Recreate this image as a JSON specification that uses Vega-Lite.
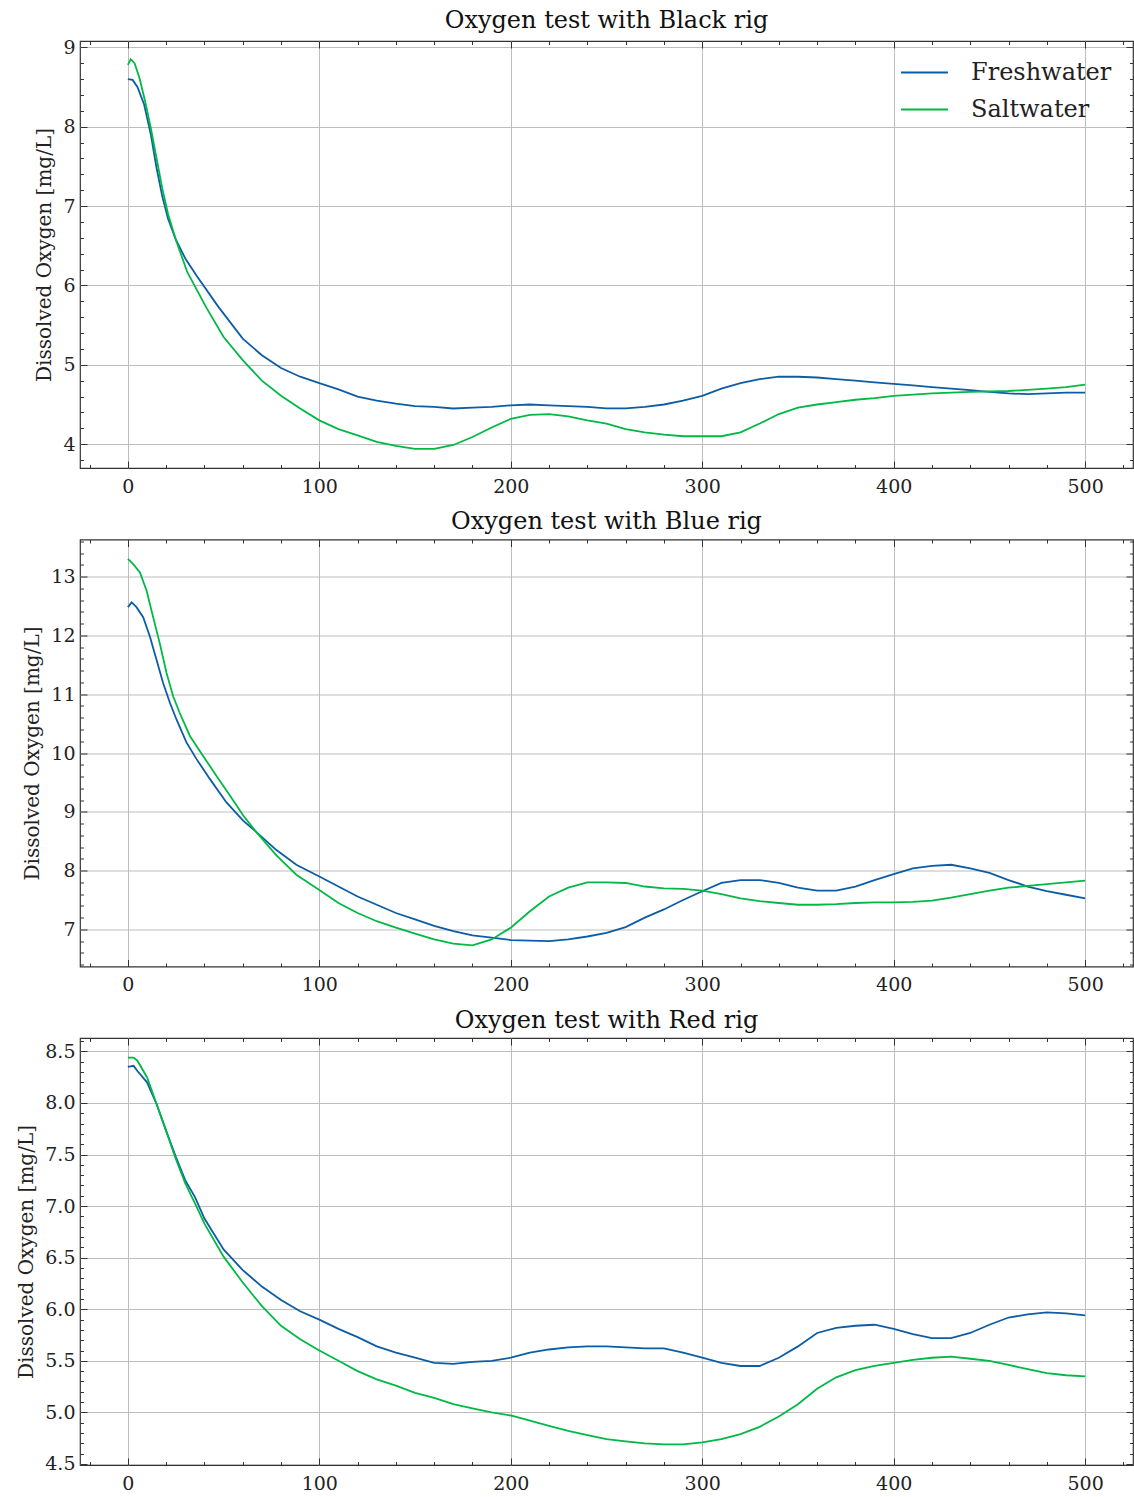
{
  "$schema": "https://vega.github.io/schema/vega-lite/v6.json",
  "padding": {"top": 8, "left": 16, "right": 0, "bottom": 0},
  "background": "white",
  "spacing": 11.5,
  "config": {
    "font": "DejaVu Serif",
    "view": {"stroke": "#333", "strokeWidth": 1.2},
    "axis": {"labelFont": "DejaVu Serif", "labelFontSize": 19, "labelColor": "#222", "titleFont": "DejaVu Serif", "titleFontSize": 20, "titleFontWeight": "normal", "titleColor": "#222", "tickColor": "#333", "domain": false, "gridColor": "#bdbdbd", "gridWidth": 1},
    "title": {"font": "DejaVu Serif", "fontSize": 24, "fontWeight": "normal", "color": "#111", "offset": 5},
    "legend": {"labelFont": "DejaVu Serif", "labelFontSize": 24, "labelColor": "#222"}
  },
  "data": {"values": [
    {"rig":"Black","water":"Freshwater","t":0,"oxygen":8.60},{"rig":"Black","water":"Freshwater","t":2.5,"oxygen":8.59},{"rig":"Black","water":"Freshwater","t":5,"oxygen":8.50},{"rig":"Black","water":"Freshwater","t":8.5,"oxygen":8.28},{"rig":"Black","water":"Freshwater","t":12,"oxygen":7.90},{"rig":"Black","water":"Freshwater","t":15,"oxygen":7.48},{"rig":"Black","water":"Freshwater","t":18,"oxygen":7.12},{"rig":"Black","water":"Freshwater","t":21,"oxygen":6.84},{"rig":"Black","water":"Freshwater","t":25,"oxygen":6.58},{"rig":"Black","water":"Freshwater","t":30,"oxygen":6.34},{"rig":"Black","water":"Freshwater","t":36,"oxygen":6.12},{"rig":"Black","water":"Freshwater","t":47.3,"oxygen":5.73},{"rig":"Black","water":"Freshwater","t":60,"oxygen":5.33},{"rig":"Black","water":"Freshwater","t":70,"oxygen":5.12},{"rig":"Black","water":"Freshwater","t":80,"oxygen":4.96},{"rig":"Black","water":"Freshwater","t":90,"oxygen":4.85},{"rig":"Black","water":"Freshwater","t":100,"oxygen":4.77},{"rig":"Black","water":"Freshwater","t":110,"oxygen":4.69},{"rig":"Black","water":"Freshwater","t":120,"oxygen":4.60},{"rig":"Black","water":"Freshwater","t":130,"oxygen":4.55},{"rig":"Black","water":"Freshwater","t":140,"oxygen":4.51},{"rig":"Black","water":"Freshwater","t":150,"oxygen":4.48},{"rig":"Black","water":"Freshwater","t":160,"oxygen":4.47},{"rig":"Black","water":"Freshwater","t":170,"oxygen":4.45},{"rig":"Black","water":"Freshwater","t":180,"oxygen":4.46},{"rig":"Black","water":"Freshwater","t":190,"oxygen":4.47},{"rig":"Black","water":"Freshwater","t":200,"oxygen":4.49},{"rig":"Black","water":"Freshwater","t":210,"oxygen":4.50},{"rig":"Black","water":"Freshwater","t":220,"oxygen":4.49},{"rig":"Black","water":"Freshwater","t":230,"oxygen":4.48},{"rig":"Black","water":"Freshwater","t":240,"oxygen":4.47},{"rig":"Black","water":"Freshwater","t":250,"oxygen":4.45},{"rig":"Black","water":"Freshwater","t":260,"oxygen":4.45},{"rig":"Black","water":"Freshwater","t":270,"oxygen":4.47},{"rig":"Black","water":"Freshwater","t":280,"oxygen":4.50},{"rig":"Black","water":"Freshwater","t":290,"oxygen":4.55},{"rig":"Black","water":"Freshwater","t":300,"oxygen":4.61},{"rig":"Black","water":"Freshwater","t":310,"oxygen":4.70},{"rig":"Black","water":"Freshwater","t":320,"oxygen":4.77},{"rig":"Black","water":"Freshwater","t":330,"oxygen":4.82},{"rig":"Black","water":"Freshwater","t":340,"oxygen":4.85},{"rig":"Black","water":"Freshwater","t":350,"oxygen":4.85},{"rig":"Black","water":"Freshwater","t":360,"oxygen":4.84},{"rig":"Black","water":"Freshwater","t":370,"oxygen":4.82},{"rig":"Black","water":"Freshwater","t":380,"oxygen":4.80},{"rig":"Black","water":"Freshwater","t":390,"oxygen":4.78},{"rig":"Black","water":"Freshwater","t":400,"oxygen":4.76},{"rig":"Black","water":"Freshwater","t":410,"oxygen":4.74},{"rig":"Black","water":"Freshwater","t":420,"oxygen":4.72},{"rig":"Black","water":"Freshwater","t":430,"oxygen":4.70},{"rig":"Black","water":"Freshwater","t":440,"oxygen":4.68},{"rig":"Black","water":"Freshwater","t":450,"oxygen":4.66},{"rig":"Black","water":"Freshwater","t":460,"oxygen":4.64},{"rig":"Black","water":"Freshwater","t":470,"oxygen":4.63},{"rig":"Black","water":"Freshwater","t":480,"oxygen":4.64},{"rig":"Black","water":"Freshwater","t":490,"oxygen":4.65},{"rig":"Black","water":"Freshwater","t":500,"oxygen":4.65},
    {"rig":"Black","water":"Saltwater","t":0,"oxygen":8.78},{"rig":"Black","water":"Saltwater","t":1.5,"oxygen":8.85},{"rig":"Black","water":"Saltwater","t":3.5,"oxygen":8.80},{"rig":"Black","water":"Saltwater","t":6,"oxygen":8.62},{"rig":"Black","water":"Saltwater","t":9,"oxygen":8.32},{"rig":"Black","water":"Saltwater","t":12,"oxygen":7.98},{"rig":"Black","water":"Saltwater","t":15,"oxygen":7.60},{"rig":"Black","water":"Saltwater","t":18,"oxygen":7.22},{"rig":"Black","water":"Saltwater","t":21,"oxygen":6.90},{"rig":"Black","water":"Saltwater","t":25,"oxygen":6.58},{"rig":"Black","water":"Saltwater","t":31,"oxygen":6.17},{"rig":"Black","water":"Saltwater","t":41,"oxygen":5.72},{"rig":"Black","water":"Saltwater","t":50,"oxygen":5.35},{"rig":"Black","water":"Saltwater","t":60,"oxygen":5.06},{"rig":"Black","water":"Saltwater","t":70,"oxygen":4.80},{"rig":"Black","water":"Saltwater","t":80,"oxygen":4.61},{"rig":"Black","water":"Saltwater","t":90,"oxygen":4.45},{"rig":"Black","water":"Saltwater","t":100,"oxygen":4.30},{"rig":"Black","water":"Saltwater","t":110,"oxygen":4.19},{"rig":"Black","water":"Saltwater","t":120,"oxygen":4.11},{"rig":"Black","water":"Saltwater","t":130,"oxygen":4.03},{"rig":"Black","water":"Saltwater","t":140,"oxygen":3.98},{"rig":"Black","water":"Saltwater","t":150,"oxygen":3.94},{"rig":"Black","water":"Saltwater","t":160,"oxygen":3.94},{"rig":"Black","water":"Saltwater","t":170,"oxygen":3.99},{"rig":"Black","water":"Saltwater","t":180,"oxygen":4.09},{"rig":"Black","water":"Saltwater","t":190,"oxygen":4.21},{"rig":"Black","water":"Saltwater","t":200,"oxygen":4.32},{"rig":"Black","water":"Saltwater","t":210,"oxygen":4.37},{"rig":"Black","water":"Saltwater","t":220,"oxygen":4.38},{"rig":"Black","water":"Saltwater","t":230,"oxygen":4.35},{"rig":"Black","water":"Saltwater","t":240,"oxygen":4.30},{"rig":"Black","water":"Saltwater","t":250,"oxygen":4.26},{"rig":"Black","water":"Saltwater","t":260,"oxygen":4.19},{"rig":"Black","water":"Saltwater","t":270,"oxygen":4.15},{"rig":"Black","water":"Saltwater","t":280,"oxygen":4.12},{"rig":"Black","water":"Saltwater","t":290,"oxygen":4.10},{"rig":"Black","water":"Saltwater","t":300,"oxygen":4.10},{"rig":"Black","water":"Saltwater","t":310,"oxygen":4.10},{"rig":"Black","water":"Saltwater","t":320,"oxygen":4.15},{"rig":"Black","water":"Saltwater","t":330,"oxygen":4.26},{"rig":"Black","water":"Saltwater","t":340,"oxygen":4.38},{"rig":"Black","water":"Saltwater","t":350,"oxygen":4.46},{"rig":"Black","water":"Saltwater","t":360,"oxygen":4.50},{"rig":"Black","water":"Saltwater","t":370,"oxygen":4.53},{"rig":"Black","water":"Saltwater","t":380,"oxygen":4.56},{"rig":"Black","water":"Saltwater","t":390,"oxygen":4.58},{"rig":"Black","water":"Saltwater","t":400,"oxygen":4.61},{"rig":"Black","water":"Saltwater","t":420,"oxygen":4.64},{"rig":"Black","water":"Saltwater","t":440,"oxygen":4.66},{"rig":"Black","water":"Saltwater","t":460,"oxygen":4.67},{"rig":"Black","water":"Saltwater","t":480,"oxygen":4.70},{"rig":"Black","water":"Saltwater","t":490,"oxygen":4.72},{"rig":"Black","water":"Saltwater","t":500,"oxygen":4.75},
    {"rig":"Blue","water":"Freshwater","t":0,"oxygen":12.48},{"rig":"Blue","water":"Freshwater","t":2,"oxygen":12.56},{"rig":"Blue","water":"Freshwater","t":4.5,"oxygen":12.48},{"rig":"Blue","water":"Freshwater","t":8,"oxygen":12.31},{"rig":"Blue","water":"Freshwater","t":11.5,"oxygen":11.98},{"rig":"Blue","water":"Freshwater","t":15,"oxygen":11.58},{"rig":"Blue","water":"Freshwater","t":18.4,"oxygen":11.19},{"rig":"Blue","water":"Freshwater","t":22,"oxygen":10.85},{"rig":"Blue","water":"Freshwater","t":25.4,"oxygen":10.57},{"rig":"Blue","water":"Freshwater","t":30.6,"oxygen":10.18},{"rig":"Blue","water":"Freshwater","t":35.8,"oxygen":9.90},{"rig":"Blue","water":"Freshwater","t":42.8,"oxygen":9.56},{"rig":"Blue","water":"Freshwater","t":51.5,"oxygen":9.16},{"rig":"Blue","water":"Freshwater","t":60.2,"oxygen":8.85},{"rig":"Blue","water":"Freshwater","t":67,"oxygen":8.66},{"rig":"Blue","water":"Freshwater","t":77.6,"oxygen":8.35},{"rig":"Blue","water":"Freshwater","t":88,"oxygen":8.10},{"rig":"Blue","water":"Freshwater","t":100,"oxygen":7.90},{"rig":"Blue","water":"Freshwater","t":110,"oxygen":7.73},{"rig":"Blue","water":"Freshwater","t":120,"oxygen":7.56},{"rig":"Blue","water":"Freshwater","t":130,"oxygen":7.42},{"rig":"Blue","water":"Freshwater","t":140,"oxygen":7.28},{"rig":"Blue","water":"Freshwater","t":150,"oxygen":7.17},{"rig":"Blue","water":"Freshwater","t":160,"oxygen":7.06},{"rig":"Blue","water":"Freshwater","t":170,"oxygen":6.97},{"rig":"Blue","water":"Freshwater","t":180,"oxygen":6.90},{"rig":"Blue","water":"Freshwater","t":190,"oxygen":6.86},{"rig":"Blue","water":"Freshwater","t":200,"oxygen":6.82},{"rig":"Blue","water":"Freshwater","t":210,"oxygen":6.81},{"rig":"Blue","water":"Freshwater","t":220,"oxygen":6.80},{"rig":"Blue","water":"Freshwater","t":230,"oxygen":6.83},{"rig":"Blue","water":"Freshwater","t":240,"oxygen":6.88},{"rig":"Blue","water":"Freshwater","t":250,"oxygen":6.94},{"rig":"Blue","water":"Freshwater","t":260,"oxygen":7.04},{"rig":"Blue","water":"Freshwater","t":270,"oxygen":7.20},{"rig":"Blue","water":"Freshwater","t":280,"oxygen":7.34},{"rig":"Blue","water":"Freshwater","t":290,"oxygen":7.50},{"rig":"Blue","water":"Freshwater","t":300,"oxygen":7.65},{"rig":"Blue","water":"Freshwater","t":310,"oxygen":7.79},{"rig":"Blue","water":"Freshwater","t":320,"oxygen":7.84},{"rig":"Blue","water":"Freshwater","t":330,"oxygen":7.84},{"rig":"Blue","water":"Freshwater","t":340,"oxygen":7.79},{"rig":"Blue","water":"Freshwater","t":350,"oxygen":7.71},{"rig":"Blue","water":"Freshwater","t":360,"oxygen":7.66},{"rig":"Blue","water":"Freshwater","t":370,"oxygen":7.66},{"rig":"Blue","water":"Freshwater","t":380,"oxygen":7.73},{"rig":"Blue","water":"Freshwater","t":390,"oxygen":7.84},{"rig":"Blue","water":"Freshwater","t":400,"oxygen":7.94},{"rig":"Blue","water":"Freshwater","t":410,"oxygen":8.04},{"rig":"Blue","water":"Freshwater","t":420,"oxygen":8.08},{"rig":"Blue","water":"Freshwater","t":430,"oxygen":8.10},{"rig":"Blue","water":"Freshwater","t":440,"oxygen":8.04},{"rig":"Blue","water":"Freshwater","t":450,"oxygen":7.96},{"rig":"Blue","water":"Freshwater","t":460,"oxygen":7.84},{"rig":"Blue","water":"Freshwater","t":470,"oxygen":7.73},{"rig":"Blue","water":"Freshwater","t":480,"oxygen":7.65},{"rig":"Blue","water":"Freshwater","t":490,"oxygen":7.59},{"rig":"Blue","water":"Freshwater","t":500,"oxygen":7.53},
    {"rig":"Blue","water":"Saltwater","t":0,"oxygen":13.30},{"rig":"Blue","water":"Saltwater","t":2.8,"oxygen":13.21},{"rig":"Blue","water":"Saltwater","t":6.3,"oxygen":13.07},{"rig":"Blue","water":"Saltwater","t":9.8,"oxygen":12.76},{"rig":"Blue","water":"Saltwater","t":13.2,"oxygen":12.31},{"rig":"Blue","water":"Saltwater","t":16.7,"oxygen":11.86},{"rig":"Blue","water":"Saltwater","t":20.2,"oxygen":11.36},{"rig":"Blue","water":"Saltwater","t":23.7,"oxygen":10.96},{"rig":"Blue","water":"Saltwater","t":27.1,"oxygen":10.68},{"rig":"Blue","water":"Saltwater","t":32.4,"oxygen":10.29},{"rig":"Blue","water":"Saltwater","t":39.3,"oxygen":9.95},{"rig":"Blue","water":"Saltwater","t":46.3,"oxygen":9.61},{"rig":"Blue","water":"Saltwater","t":53.2,"oxygen":9.28},{"rig":"Blue","water":"Saltwater","t":60.2,"oxygen":8.94},{"rig":"Blue","water":"Saltwater","t":67,"oxygen":8.66},{"rig":"Blue","water":"Saltwater","t":77.6,"oxygen":8.26},{"rig":"Blue","water":"Saltwater","t":88,"oxygen":7.93},{"rig":"Blue","water":"Saltwater","t":100,"oxygen":7.67},{"rig":"Blue","water":"Saltwater","t":110,"oxygen":7.45},{"rig":"Blue","water":"Saltwater","t":120,"oxygen":7.28},{"rig":"Blue","water":"Saltwater","t":130,"oxygen":7.14},{"rig":"Blue","water":"Saltwater","t":140,"oxygen":7.03},{"rig":"Blue","water":"Saltwater","t":150,"oxygen":6.93},{"rig":"Blue","water":"Saltwater","t":160,"oxygen":6.83},{"rig":"Blue","water":"Saltwater","t":170,"oxygen":6.76},{"rig":"Blue","water":"Saltwater","t":180,"oxygen":6.73},{"rig":"Blue","water":"Saltwater","t":190,"oxygen":6.83},{"rig":"Blue","water":"Saltwater","t":200,"oxygen":7.03},{"rig":"Blue","water":"Saltwater","t":210,"oxygen":7.31},{"rig":"Blue","water":"Saltwater","t":220,"oxygen":7.56},{"rig":"Blue","water":"Saltwater","t":230,"oxygen":7.71},{"rig":"Blue","water":"Saltwater","t":240,"oxygen":7.80},{"rig":"Blue","water":"Saltwater","t":250,"oxygen":7.80},{"rig":"Blue","water":"Saltwater","t":260,"oxygen":7.79},{"rig":"Blue","water":"Saltwater","t":270,"oxygen":7.73},{"rig":"Blue","water":"Saltwater","t":280,"oxygen":7.70},{"rig":"Blue","water":"Saltwater","t":290,"oxygen":7.69},{"rig":"Blue","water":"Saltwater","t":300,"oxygen":7.66},{"rig":"Blue","water":"Saltwater","t":310,"oxygen":7.60},{"rig":"Blue","water":"Saltwater","t":320,"oxygen":7.53},{"rig":"Blue","water":"Saltwater","t":330,"oxygen":7.48},{"rig":"Blue","water":"Saltwater","t":340,"oxygen":7.45},{"rig":"Blue","water":"Saltwater","t":350,"oxygen":7.42},{"rig":"Blue","water":"Saltwater","t":360,"oxygen":7.42},{"rig":"Blue","water":"Saltwater","t":370,"oxygen":7.43},{"rig":"Blue","water":"Saltwater","t":380,"oxygen":7.45},{"rig":"Blue","water":"Saltwater","t":390,"oxygen":7.46},{"rig":"Blue","water":"Saltwater","t":400,"oxygen":7.46},{"rig":"Blue","water":"Saltwater","t":410,"oxygen":7.47},{"rig":"Blue","water":"Saltwater","t":420,"oxygen":7.49},{"rig":"Blue","water":"Saltwater","t":430,"oxygen":7.54},{"rig":"Blue","water":"Saltwater","t":440,"oxygen":7.60},{"rig":"Blue","water":"Saltwater","t":450,"oxygen":7.66},{"rig":"Blue","water":"Saltwater","t":460,"oxygen":7.71},{"rig":"Blue","water":"Saltwater","t":470,"oxygen":7.74},{"rig":"Blue","water":"Saltwater","t":480,"oxygen":7.77},{"rig":"Blue","water":"Saltwater","t":490,"oxygen":7.80},{"rig":"Blue","water":"Saltwater","t":500,"oxygen":7.83},
    {"rig":"Red","water":"Freshwater","t":0,"oxygen":8.35},{"rig":"Red","water":"Freshwater","t":3,"oxygen":8.36},{"rig":"Red","water":"Freshwater","t":5,"oxygen":8.31},{"rig":"Red","water":"Freshwater","t":10,"oxygen":8.20},{"rig":"Red","water":"Freshwater","t":15,"oxygen":7.99},{"rig":"Red","water":"Freshwater","t":20,"oxygen":7.73},{"rig":"Red","water":"Freshwater","t":25,"oxygen":7.48},{"rig":"Red","water":"Freshwater","t":30,"oxygen":7.25},{"rig":"Red","water":"Freshwater","t":35,"oxygen":7.09},{"rig":"Red","water":"Freshwater","t":40,"oxygen":6.88},{"rig":"Red","water":"Freshwater","t":50,"oxygen":6.58},{"rig":"Red","water":"Freshwater","t":60,"oxygen":6.38},{"rig":"Red","water":"Freshwater","t":70,"oxygen":6.22},{"rig":"Red","water":"Freshwater","t":80,"oxygen":6.09},{"rig":"Red","water":"Freshwater","t":90,"oxygen":5.98},{"rig":"Red","water":"Freshwater","t":100,"oxygen":5.90},{"rig":"Red","water":"Freshwater","t":110,"oxygen":5.81},{"rig":"Red","water":"Freshwater","t":120,"oxygen":5.73},{"rig":"Red","water":"Freshwater","t":130,"oxygen":5.64},{"rig":"Red","water":"Freshwater","t":140,"oxygen":5.58},{"rig":"Red","water":"Freshwater","t":150,"oxygen":5.53},{"rig":"Red","water":"Freshwater","t":160,"oxygen":5.48},{"rig":"Red","water":"Freshwater","t":170,"oxygen":5.47},{"rig":"Red","water":"Freshwater","t":180,"oxygen":5.49},{"rig":"Red","water":"Freshwater","t":190,"oxygen":5.50},{"rig":"Red","water":"Freshwater","t":200,"oxygen":5.53},{"rig":"Red","water":"Freshwater","t":210,"oxygen":5.58},{"rig":"Red","water":"Freshwater","t":220,"oxygen":5.61},{"rig":"Red","water":"Freshwater","t":230,"oxygen":5.63},{"rig":"Red","water":"Freshwater","t":240,"oxygen":5.64},{"rig":"Red","water":"Freshwater","t":250,"oxygen":5.64},{"rig":"Red","water":"Freshwater","t":260,"oxygen":5.63},{"rig":"Red","water":"Freshwater","t":270,"oxygen":5.62},{"rig":"Red","water":"Freshwater","t":280,"oxygen":5.62},{"rig":"Red","water":"Freshwater","t":290,"oxygen":5.58},{"rig":"Red","water":"Freshwater","t":300,"oxygen":5.53},{"rig":"Red","water":"Freshwater","t":310,"oxygen":5.48},{"rig":"Red","water":"Freshwater","t":320,"oxygen":5.45},{"rig":"Red","water":"Freshwater","t":330,"oxygen":5.45},{"rig":"Red","water":"Freshwater","t":340,"oxygen":5.53},{"rig":"Red","water":"Freshwater","t":350,"oxygen":5.64},{"rig":"Red","water":"Freshwater","t":360,"oxygen":5.77},{"rig":"Red","water":"Freshwater","t":370,"oxygen":5.82},{"rig":"Red","water":"Freshwater","t":380,"oxygen":5.84},{"rig":"Red","water":"Freshwater","t":390,"oxygen":5.85},{"rig":"Red","water":"Freshwater","t":400,"oxygen":5.81},{"rig":"Red","water":"Freshwater","t":410,"oxygen":5.76},{"rig":"Red","water":"Freshwater","t":420,"oxygen":5.72},{"rig":"Red","water":"Freshwater","t":430,"oxygen":5.72},{"rig":"Red","water":"Freshwater","t":440,"oxygen":5.77},{"rig":"Red","water":"Freshwater","t":450,"oxygen":5.85},{"rig":"Red","water":"Freshwater","t":460,"oxygen":5.92},{"rig":"Red","water":"Freshwater","t":470,"oxygen":5.95},{"rig":"Red","water":"Freshwater","t":480,"oxygen":5.97},{"rig":"Red","water":"Freshwater","t":490,"oxygen":5.96},{"rig":"Red","water":"Freshwater","t":500,"oxygen":5.94},
    {"rig":"Red","water":"Saltwater","t":0,"oxygen":8.44},{"rig":"Red","water":"Saltwater","t":3,"oxygen":8.44},{"rig":"Red","water":"Saltwater","t":5,"oxygen":8.41},{"rig":"Red","water":"Saltwater","t":10,"oxygen":8.25},{"rig":"Red","water":"Saltwater","t":15,"oxygen":7.99},{"rig":"Red","water":"Saltwater","t":20,"oxygen":7.73},{"rig":"Red","water":"Saltwater","t":25,"oxygen":7.46},{"rig":"Red","water":"Saltwater","t":30,"oxygen":7.22},{"rig":"Red","water":"Saltwater","t":35,"oxygen":7.03},{"rig":"Red","water":"Saltwater","t":40,"oxygen":6.83},{"rig":"Red","water":"Saltwater","t":50,"oxygen":6.51},{"rig":"Red","water":"Saltwater","t":60,"oxygen":6.26},{"rig":"Red","water":"Saltwater","t":70,"oxygen":6.03},{"rig":"Red","water":"Saltwater","t":80,"oxygen":5.84},{"rig":"Red","water":"Saltwater","t":90,"oxygen":5.71},{"rig":"Red","water":"Saltwater","t":100,"oxygen":5.60},{"rig":"Red","water":"Saltwater","t":110,"oxygen":5.50},{"rig":"Red","water":"Saltwater","t":120,"oxygen":5.40},{"rig":"Red","water":"Saltwater","t":130,"oxygen":5.32},{"rig":"Red","water":"Saltwater","t":140,"oxygen":5.26},{"rig":"Red","water":"Saltwater","t":150,"oxygen":5.19},{"rig":"Red","water":"Saltwater","t":160,"oxygen":5.14},{"rig":"Red","water":"Saltwater","t":170,"oxygen":5.08},{"rig":"Red","water":"Saltwater","t":180,"oxygen":5.04},{"rig":"Red","water":"Saltwater","t":190,"oxygen":5.00},{"rig":"Red","water":"Saltwater","t":200,"oxygen":4.97},{"rig":"Red","water":"Saltwater","t":210,"oxygen":4.92},{"rig":"Red","water":"Saltwater","t":220,"oxygen":4.87},{"rig":"Red","water":"Saltwater","t":230,"oxygen":4.82},{"rig":"Red","water":"Saltwater","t":240,"oxygen":4.78},{"rig":"Red","water":"Saltwater","t":250,"oxygen":4.74},{"rig":"Red","water":"Saltwater","t":260,"oxygen":4.72},{"rig":"Red","water":"Saltwater","t":270,"oxygen":4.70},{"rig":"Red","water":"Saltwater","t":280,"oxygen":4.69},{"rig":"Red","water":"Saltwater","t":290,"oxygen":4.69},{"rig":"Red","water":"Saltwater","t":300,"oxygen":4.71},{"rig":"Red","water":"Saltwater","t":310,"oxygen":4.74},{"rig":"Red","water":"Saltwater","t":320,"oxygen":4.79},{"rig":"Red","water":"Saltwater","t":330,"oxygen":4.86},{"rig":"Red","water":"Saltwater","t":340,"oxygen":4.96},{"rig":"Red","water":"Saltwater","t":350,"oxygen":5.08},{"rig":"Red","water":"Saltwater","t":360,"oxygen":5.23},{"rig":"Red","water":"Saltwater","t":370,"oxygen":5.34},{"rig":"Red","water":"Saltwater","t":380,"oxygen":5.41},{"rig":"Red","water":"Saltwater","t":390,"oxygen":5.45},{"rig":"Red","water":"Saltwater","t":400,"oxygen":5.48},{"rig":"Red","water":"Saltwater","t":410,"oxygen":5.51},{"rig":"Red","water":"Saltwater","t":420,"oxygen":5.53},{"rig":"Red","water":"Saltwater","t":430,"oxygen":5.54},{"rig":"Red","water":"Saltwater","t":440,"oxygen":5.52},{"rig":"Red","water":"Saltwater","t":450,"oxygen":5.50},{"rig":"Red","water":"Saltwater","t":460,"oxygen":5.46},{"rig":"Red","water":"Saltwater","t":470,"oxygen":5.42},{"rig":"Red","water":"Saltwater","t":480,"oxygen":5.38},{"rig":"Red","water":"Saltwater","t":490,"oxygen":5.36},{"rig":"Red","water":"Saltwater","t":500,"oxygen":5.35}
  ]},
  "vconcat": [
    {
      "title": "Oxygen test with Black rig",
      "width": 1053, "height": 427,
      "transform": [{"filter": "datum.rig === 'Black'"}],
      "layer": [
        {"mark": {"type": "line", "strokeWidth": 1.8},
         "encoding": {
           "x": {"field": "t", "type": "quantitative", "scale": {"domain": [-25, 525], "nice": false, "zero": false}, "axis": {"orient": "bottom", "values": [0,100,200,300,400,500], "grid": true, "tickSize": -7, "labelPadding": 16, "title": null}},
           "y": {"field": "oxygen", "type": "quantitative", "scale": {"domain": [3.7, 9.08], "nice": false, "zero": false}, "axis": {"orient": "left", "values": [4,5,6,7,8,9], "grid": true, "tickSize": -7, "labelPadding": 12, "title": "Dissolved Oxygen [mg/L]", "titlePadding": 8}},
           "color": {"field": "water", "type": "nominal", "scale": {"domain": ["Freshwater","Saltwater"], "range": ["#0C5DA5","#00B945"]}, "legend": {"title": null, "orient": "none", "legendX": 820, "legendY": 7, "symbolType": "stroke", "symbolSize": 2200, "symbolStrokeWidth": 2, "labelOffset": 22, "rowPadding": 0, "padding": 0}}
         }},
        {"mark": {"type": "point", "opacity": 0},
         "encoding": {
           "x": {"field": "t", "type": "quantitative", "axis": {"orient": "bottom", "values": [-20,20,40,60,80,120,140,160,180,220,240,260,280,320,340,360,380,420,440,460,480,520], "grid": false, "labels": false, "tickSize": -3.5, "title": null}},
           "y": {"field": "oxygen", "type": "quantitative", "axis": {"orient": "left", "values": [3.8,4.2,4.4,4.6,4.8,5.2,5.4,5.6,5.8,6.2,6.4,6.6,6.8,7.2,7.4,7.6,7.8,8.2,8.4,8.6,8.8], "grid": false, "labels": false, "tickSize": -3.5, "title": null}}
         }},
        {"mark": {"type": "point", "opacity": 0},
         "encoding": {
           "x": {"field": "t", "type": "quantitative", "axis": {"orient": "top", "values": [0,100,200,300,400,500], "grid": false, "labels": false, "tickSize": -7, "title": null}},
           "y": {"field": "oxygen", "type": "quantitative", "axis": {"orient": "right", "values": [4,5,6,7,8,9], "grid": false, "labels": false, "tickSize": -7, "title": null}}
         }},
        {"mark": {"type": "point", "opacity": 0},
         "encoding": {
           "x": {"field": "t", "type": "quantitative", "axis": {"orient": "top", "values": [-20,20,40,60,80,120,140,160,180,220,240,260,280,320,340,360,380,420,440,460,480,520], "grid": false, "labels": false, "tickSize": -3.5, "title": null}},
           "y": {"field": "oxygen", "type": "quantitative", "axis": {"orient": "right", "values": [3.8,4.2,4.4,4.6,4.8,5.2,5.4,5.6,5.8,6.2,6.4,6.6,6.8,7.2,7.4,7.6,7.8,8.2,8.4,8.6,8.8], "grid": false, "labels": false, "tickSize": -3.5, "title": null}}
         }}
      ],
      "resolve": {"axis": {"x": "independent", "y": "independent"}}
    },
    {
      "title": "Oxygen test with Blue rig",
      "width": 1053, "height": 427,
      "transform": [{"filter": "datum.rig === 'Blue'"}],
      "layer": [
        {"mark": {"type": "line", "strokeWidth": 1.8},
         "encoding": {
           "x": {"field": "t", "type": "quantitative", "scale": {"domain": [-25, 525], "nice": false, "zero": false}, "axis": {"orient": "bottom", "values": [0,100,200,300,400,500], "grid": true, "tickSize": -7, "labelPadding": 16, "title": null}},
           "y": {"field": "oxygen", "type": "quantitative", "scale": {"domain": [6.37, 13.63], "nice": false, "zero": false}, "axis": {"orient": "left", "values": [7,8,9,10,11,12,13], "grid": true, "tickSize": -7, "labelPadding": 12, "title": "Dissolved Oxygen [mg/L]", "titlePadding": 8}},
           "color": {"field": "water", "type": "nominal", "scale": {"domain": ["Freshwater","Saltwater"], "range": ["#0C5DA5","#00B945"]}, "legend": {"title": null, "orient": "none", "legendX": 820, "legendY": 7, "symbolType": "stroke", "symbolSize": 2200, "symbolStrokeWidth": 2, "labelOffset": 22, "rowPadding": 0, "padding": 0}}
         }},
        {"mark": {"type": "point", "opacity": 0},
         "encoding": {
           "x": {"field": "t", "type": "quantitative", "axis": {"orient": "bottom", "values": [-20,20,40,60,80,120,140,160,180,220,240,260,280,320,340,360,380,420,440,460,480,520], "grid": false, "labels": false, "tickSize": -3.5, "title": null}},
           "y": {"field": "oxygen", "type": "quantitative", "axis": {"orient": "left", "values": [6.4,6.6,6.8,7.2,7.4,7.6,7.8,8.2,8.4,8.6,8.8,9.2,9.4,9.6,9.8,10.2,10.4,10.6,10.8,11.2,11.4,11.6,11.8,12.2,12.4,12.6,12.8,13.2,13.4,13.6], "grid": false, "labels": false, "tickSize": -3.5, "title": null}}
         }},
        {"mark": {"type": "point", "opacity": 0},
         "encoding": {
           "x": {"field": "t", "type": "quantitative", "axis": {"orient": "top", "values": [0,100,200,300,400,500], "grid": false, "labels": false, "tickSize": -7, "title": null}},
           "y": {"field": "oxygen", "type": "quantitative", "axis": {"orient": "right", "values": [7,8,9,10,11,12,13], "grid": false, "labels": false, "tickSize": -7, "title": null}}
         }},
        {"mark": {"type": "point", "opacity": 0},
         "encoding": {
           "x": {"field": "t", "type": "quantitative", "axis": {"orient": "top", "values": [-20,20,40,60,80,120,140,160,180,220,240,260,280,320,340,360,380,420,440,460,480,520], "grid": false, "labels": false, "tickSize": -3.5, "title": null}},
           "y": {"field": "oxygen", "type": "quantitative", "axis": {"orient": "right", "values": [6.4,6.6,6.8,7.2,7.4,7.6,7.8,8.2,8.4,8.6,8.8,9.2,9.4,9.6,9.8,10.2,10.4,10.6,10.8,11.2,11.4,11.6,11.8,12.2,12.4,12.6,12.8,13.2,13.4,13.6], "grid": false, "labels": false, "tickSize": -3.5, "title": null}}
         }}
      ],
      "resolve": {"axis": {"x": "independent", "y": "independent"}}
    },
    {
      "title": "Oxygen test with Red rig",
      "width": 1053, "height": 427,
      "transform": [{"filter": "datum.rig === 'Red'"}],
      "layer": [
        {"mark": {"type": "line", "strokeWidth": 1.8},
         "encoding": {
           "x": {"field": "t", "type": "quantitative", "scale": {"domain": [-25, 525], "nice": false, "zero": false}, "axis": {"orient": "bottom", "values": [0,100,200,300,400,500], "grid": true, "tickSize": -7, "labelPadding": 16, "title": null}},
           "y": {"field": "oxygen", "type": "quantitative", "scale": {"domain": [4.49, 8.63], "nice": false, "zero": false}, "axis": {"orient": "left", "values": [4.5,5,5.5,6,6.5,7,7.5,8,8.5], "format": ".1f", "grid": true, "tickSize": -7, "labelPadding": 12, "title": "Dissolved Oxygen [mg/L]", "titlePadding": 8}},
           "color": {"field": "water", "type": "nominal", "scale": {"domain": ["Freshwater","Saltwater"], "range": ["#0C5DA5","#00B945"]}, "legend": {"title": null, "orient": "none", "legendX": 820, "legendY": 7, "symbolType": "stroke", "symbolSize": 2200, "symbolStrokeWidth": 2, "labelOffset": 22, "rowPadding": 0, "padding": 0}}
         }},
        {"mark": {"type": "point", "opacity": 0},
         "encoding": {
           "x": {"field": "t", "type": "quantitative", "axis": {"orient": "bottom", "values": [-20,20,40,60,80,120,140,160,180,220,240,260,280,320,340,360,380,420,440,460,480,520], "grid": false, "labels": false, "tickSize": -3.5, "title": null}},
           "y": {"field": "oxygen", "type": "quantitative", "axis": {"orient": "left", "values": [4.6,4.7,4.8,4.9,5.1,5.2,5.3,5.4,5.6,5.7,5.8,5.9,6.1,6.2,6.3,6.4,6.6,6.7,6.8,6.9,7.1,7.2,7.3,7.4,7.6,7.7,7.8,7.9,8.1,8.2,8.3,8.4,8.6], "grid": false, "labels": false, "tickSize": -3.5, "title": null}}
         }},
        {"mark": {"type": "point", "opacity": 0},
         "encoding": {
           "x": {"field": "t", "type": "quantitative", "axis": {"orient": "top", "values": [0,100,200,300,400,500], "grid": false, "labels": false, "tickSize": -7, "title": null}},
           "y": {"field": "oxygen", "type": "quantitative", "axis": {"orient": "right", "values": [4.5,5,5.5,6,6.5,7,7.5,8,8.5], "grid": false, "labels": false, "tickSize": -7, "title": null}}
         }},
        {"mark": {"type": "point", "opacity": 0},
         "encoding": {
           "x": {"field": "t", "type": "quantitative", "axis": {"orient": "top", "values": [-20,20,40,60,80,120,140,160,180,220,240,260,280,320,340,360,380,420,440,460,480,520], "grid": false, "labels": false, "tickSize": -3.5, "title": null}},
           "y": {"field": "oxygen", "type": "quantitative", "axis": {"orient": "right", "values": [4.6,4.7,4.8,4.9,5.1,5.2,5.3,5.4,5.6,5.7,5.8,5.9,6.1,6.2,6.3,6.4,6.6,6.7,6.8,6.9,7.1,7.2,7.3,7.4,7.6,7.7,7.8,7.9,8.1,8.2,8.3,8.4,8.6], "grid": false, "labels": false, "tickSize": -3.5, "title": null}}
         }}
      ],
      "resolve": {"axis": {"x": "independent", "y": "independent"}}
    }
  ]
}
